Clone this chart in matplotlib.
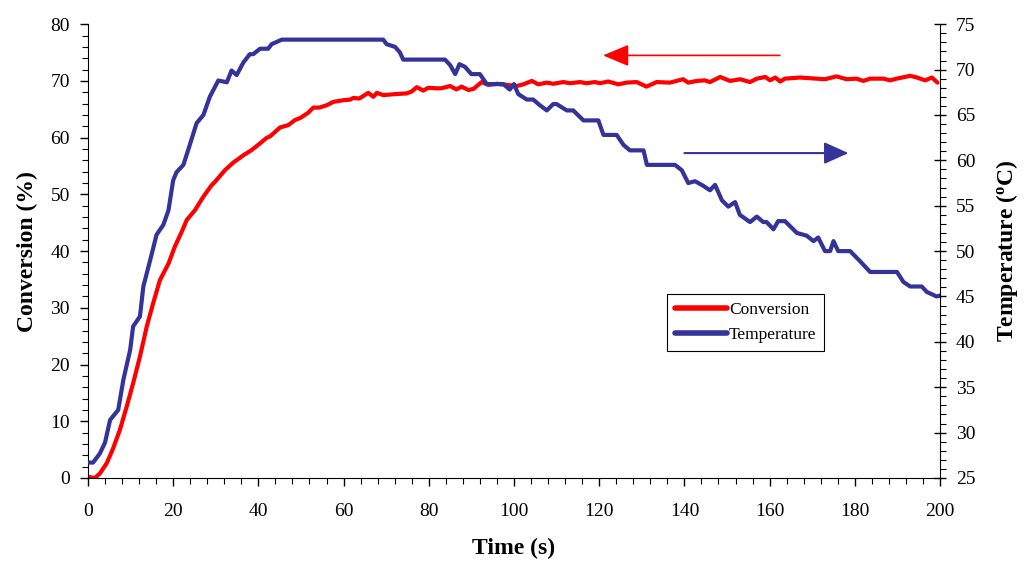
import numpy as np
import matplotlib.pyplot as plt
from matplotlib.ticker import MultipleLocator

plt.rcParams['font.family'] = ['Liberation Serif', 'DejaVu Serif']
plt.rcParams['mathtext.fontset'] = 'stix'

# conversion (%) vs time (s)
t_conv = [0, 1.6, 2.8, 4.4, 5.9, 7.5, 9.1, 10.6, 12.2, 13.8, 15.3, 16.9, 18.9, 20.4, 22, 23.2,
          25.1, 27.1, 29, 29.8, 32.2, 34.1, 36.5, 38.4, 40.4, 42, 42.7, 45.1, 47, 48.6, 49.9,
          51.7, 52.9, 54.3, 56, 57.6, 59.9, 61.5, 62.3, 63.7, 65.8, 67, 67.8, 69.3, 72.5, 74.8,
          75.9, 77.2, 78.7, 79.9, 81.7, 82.9, 85, 86.5, 87.7, 89.3, 90.5, 92.4, 94, 96, 98.3,
          100.6, 102.2, 104.2, 105.7, 107.7, 109.2, 111.6, 113.1, 115.5, 117, 119, 120.2, 122.1,
          124.5, 126.4, 128.8, 131.1, 133.5, 136.6, 139.7, 140.9, 142.9, 144.8, 146, 148.4,
          150.7, 153.1, 155.4, 157, 159, 160.1, 161.3, 162.5, 163.6, 167.1, 171, 173, 175.7,
          178.1, 180.4, 182, 183.6, 186.7, 188.3, 189.8, 193, 194.6, 196.5, 198.1, 199.4]
conversion = [0.2, 0, 0.8, 2.6, 5.2, 8.5, 12.6, 16.7, 21.4, 26.7, 30.8, 34.9, 37.8, 40.8, 43.4, 45.5,
              47.2, 49.6, 51.6, 52.2, 54.3, 55.6, 56.9, 57.8, 59, 60, 60.2, 61.8, 62.2, 63.1, 63.5,
              64.4, 65.3, 65.3, 65.7, 66.3, 66.6, 66.7, 67, 66.9, 67.9, 67.2, 67.9, 67.5, 67.7, 67.8,
              68.1, 68.9, 68.3, 68.8, 68.7, 68.7, 69.1, 68.5, 69, 68.4, 68.6, 69.8, 69.3, 69.5, 69.3,
              69.1, 69.4, 70, 69.4, 69.7, 69.5, 69.8, 69.6, 69.8, 69.6, 69.8, 69.6, 69.9,
              69.4, 69.7, 69.8, 69, 69.8, 69.7, 70.3, 69.7, 70, 70.1, 69.8, 70.7,
              70, 70.3, 69.8, 70.4, 70.7, 70.1, 70.6, 69.9, 70.4, 70.6, 70.4, 70.3, 70.8,
              70.3, 70.4, 70, 70.4, 70.4, 70.1, 70.4, 70.9, 70.6, 70.1, 70.6, 69.7]

# temperature (C) vs time (s)
t_temp = [0, 1.2, 2.8, 4, 5.2, 7.1, 8.3, 9.9, 10.6, 12.2, 13, 14.6, 16.1, 17.7, 18.9, 20, 20.8,
          22.4, 23.9, 25.5, 27.1, 28.6, 30.6, 32.6, 33.7, 34.9, 36.5, 38, 38.8, 40.4, 42.3, 43.1,
          45.5, 69.3, 70.1, 72.1, 73.2, 74, 83.8, 85, 86.2, 87.2, 88.5, 90, 92, 93.6, 97.5, 99,
          100, 101, 103, 104.5, 106, 107.7, 109.2, 110, 112.4, 113.9, 116.3, 119.8, 121, 124.1,
          125.7, 127.2, 130.4, 131.2, 137.8, 139.4, 140.9, 142.5, 144.4, 146, 147.2, 148.8,
          150.3, 151.9, 153, 155.4, 157, 158.5, 159.3, 160.9, 162, 163.6, 166.4, 168.7, 170.3,
          171.4, 173, 174.2, 175, 176.1, 178.9, 181.2, 183.6, 189.9, 191.4, 193, 195.7, 196.9,
          199.2, 200]
temperature = [26.7, 26.7, 27.7, 28.9, 31.4, 32.5, 35.8, 39.1, 41.7, 42.8, 46.1, 49, 51.8, 52.9, 54.5,
               57.8, 58.7, 59.5, 61.7, 64.1, 65, 67, 68.8, 68.6, 69.9, 69.4, 70.8, 71.7, 71.7, 72.3,
               72.3, 72.8, 73.3, 73.3, 72.8, 72.5, 71.9, 71.1, 71.1, 70.5, 69.5, 70.6, 70.3, 69.5,
               69.5, 68.4, 68.4, 67.8, 68.4, 67.3, 66.7, 66.7, 66.1, 65.5, 66.2, 66.2, 65.5, 65.5,
               64.4, 64.4, 62.8, 62.8, 61.7, 61.1, 61.1, 59.5, 59.5, 58.9, 57.5, 57.7, 57.2, 56.7,
               57.3, 55.6, 54.9, 55.4, 54, 53.2, 53.8, 53.2, 53.2, 52.4, 53.3, 53.3, 52, 51.7, 51.1,
               51.5, 50, 50, 51.1, 50, 50, 48.9, 47.7, 47.7, 46.6, 46.1, 46.1, 45.5, 45, 45.1]

red = '#FF0000'
blue = '#333399'

fig = plt.figure(figsize=(10.24, 5.63), dpi=100)
ax1 = fig.add_axes([0.0859, 0.151, 0.8321, 0.806])
ax2 = ax1.twinx()

l1, = ax1.plot(t_conv, conversion, color=red, lw=3.0, solid_joinstyle='round', solid_capstyle='round')
l2, = ax2.plot(t_temp, temperature, color=blue, lw=3.0, solid_joinstyle='round', solid_capstyle='round')

ax1.set_xlim(0, 200)
ax1.set_ylim(0, 80)
ax2.set_ylim(25, 75)

ax1.xaxis.set_major_locator(MultipleLocator(20))
ax1.xaxis.set_minor_locator(MultipleLocator(4))
ax1.yaxis.set_major_locator(MultipleLocator(10))
ax1.yaxis.set_minor_locator(MultipleLocator(2))
ax2.yaxis.set_major_locator(MultipleLocator(5))
ax2.yaxis.set_minor_locator(MultipleLocator(1))

for ax in (ax1, ax2):
    ax.spines['top'].set_visible(False)
    ax.tick_params(which='major', direction='out', length=6, width=1, labelsize=14, pad=7)
    ax.tick_params(which='minor', direction='out', length=4, width=0.8)
ax1.tick_params(axis='x', which='major', pad=12)
ax2.tick_params(which='major', direction='inout', length=9)
ax1.spines['right'].set_visible(False)
ax2.spines['left'].set_visible(False)
ax2.spines['bottom'].set_visible(False)

ax1.set_xlabel('Time (s)', fontsize=17, fontweight='bold', labelpad=13)
ax1.set_ylabel('Conversion (%)', fontsize=17, fontweight='bold', labelpad=9)
ax2.set_ylabel('Temperature ($\\mathregular{^{o}}$C)', fontsize=17, fontweight='bold', labelpad=13)

# direction arrows pointing at each axis
ax1.annotate('', xy=(120.9, 74.5), xytext=(162.4, 74.5),
             arrowprops=dict(arrowstyle='-|>,head_length=1.0,head_width=0.42', mutation_scale=16,
                             color=red, lw=1.2, shrinkA=0, shrinkB=0))
ax2.annotate('', xy=(178.5, 60.8), xytext=(140, 60.8),
             arrowprops=dict(arrowstyle='-|>,head_length=1.0,head_width=0.45', mutation_scale=15,
                             color=blue, lw=1.5, shrinkA=0, shrinkB=0))

leg = ax2.legend([l1, l2], ['Conversion', 'Temperature'], loc='upper left',
                 bbox_to_anchor=(0.68, 0.405), fontsize=12.5, handlelength=3.0,
                 fancybox=False, framealpha=1, edgecolor='black', borderpad=0.45,
                 handletextpad=0.1, labelspacing=0.5, borderaxespad=0)
leg.get_frame().set_linewidth(0.8)
for h in leg.get_lines():
    h.set_linewidth(4)

fig.savefig('out.png', dpi=100)
